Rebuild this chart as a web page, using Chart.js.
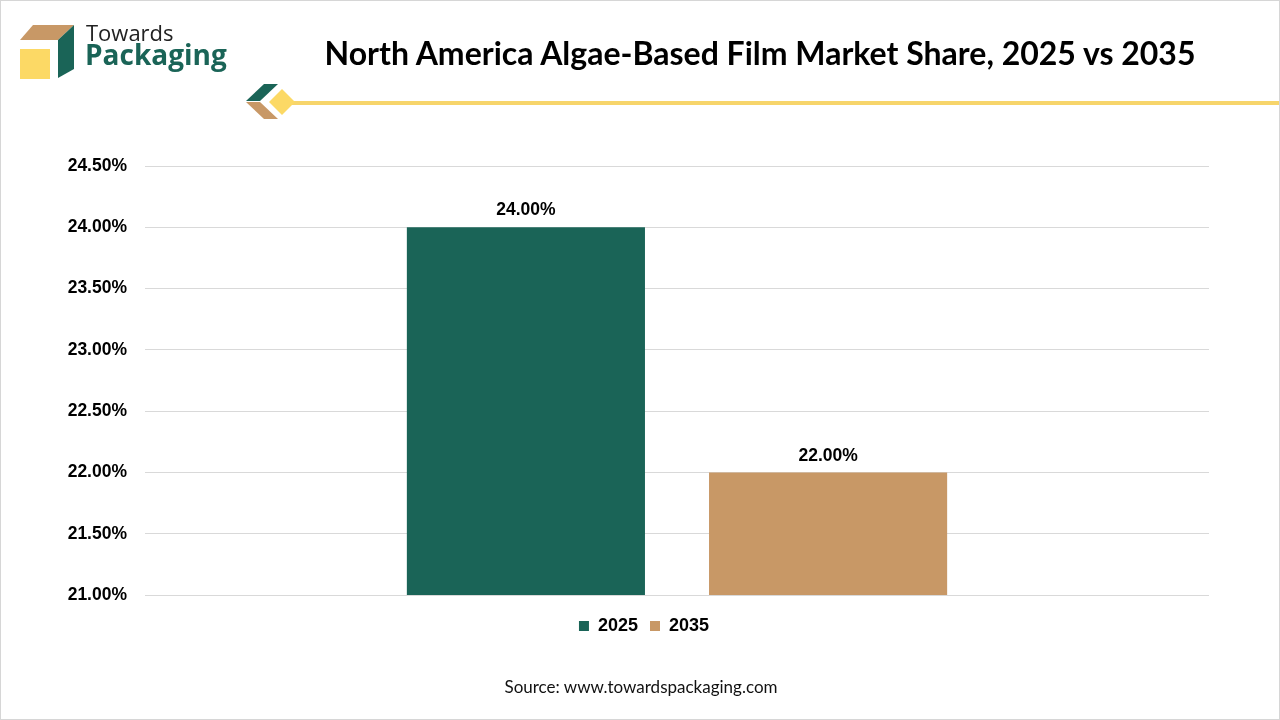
<!DOCTYPE html>
<html>
<head>
<meta charset="utf-8">
<title>North America Algae-Based Film Market Share</title>
<script src="https://cdn.jsdelivr.net/npm/chart.js@4.4.1/dist/chart.umd.min.js"></script>
<style>
  html, body { margin: 0; padding: 0; background: #fff; }
  #page { position: relative; width: 1280px; height: 720px; overflow: hidden; box-sizing: border-box; border: 1px solid #d6d6d6; }
  #chartBox { position: absolute; left: 0; top: 0; width: 1280px; height: 720px; }
  #logo { position: absolute; left: 0; top: 0; }
  .brand1 { position: absolute; left: 85px; top: 16px; font: 400 22px "Open Sans", sans-serif; color: #222; }
  .brand2 { position: absolute; left: 84px; top: 34px; font: 700 28px "Open Sans", sans-serif; color: #1a6457; }
  #title { position: absolute; left: 0; width: 1518px; top: 32px; text-align: center; font: 700 32px Lato, sans-serif; color: #000; }
  #source { position: absolute; left: 0; width: 1280px; top: 675px; text-align: center; font: 400 17px Lato, sans-serif; color: #111; }
</style>
</head>
<body>
<div id="page">
  <div id="chartBox"><canvas id="shareChart"></canvas></div>
  <svg id="logo" width="1280" height="130">
    <polygon points="32,24 73,24 57,39 19,39" fill="#c89866"/>
    <polygon points="73,24 73,68 57,77 57,39" fill="#1a6457"/>
    <rect x="19" y="48" width="30" height="30" fill="#fcd965"/>
    <polygon points="245,100 263,83 277,83 259,100" fill="#1a6457"/>
    <polygon points="245,101 259,101 277,118 263,118" fill="#c89866"/>
    <rect x="288" y="100" width="992" height="4" fill="#f7d56b"/>
    <polygon points="281,88 294,101 281,114 268,101" fill="#fcd965"/>
  </svg>
  <div class="brand1">Towards</div>
  <div class="brand2">Packaging</div>
  <div id="title">North America Algae-Based Film Market Share, 2025 vs 2035</div>
  <div id="source">Source: www.towardspackaging.com</div>
</div>
<script>
// Dữ liệu biểu đồ
const categories = [''];
const seriesNames = ['2025', '2035'];
const values2025 = [24.0];
const values2035 = [22.0];
const seriesColors = ['#1a6457', '#c89866'];
const yTicks = [21, 21.5, 22, 22.5, 23, 23.5, 24, 24.5];

const labelFont = '"Liberation Sans", Arial, sans-serif';

// Vẽ nhãn giá trị trên đầu cột
const barLabels = {
    id: 'barLabels',
    afterDatasetsDraw(chart) {
        const ctx = chart.ctx;
        ctx.save();
        ctx.font = 'bold 17.5px ' + labelFont;
        ctx.fillStyle = '#000';
        ctx.textAlign = 'center';
        ctx.textBaseline = 'bottom';
        chart.data.datasets.forEach((ds, i) => {
            chart.getDatasetMeta(i).data.forEach((bar, j) => {
                ctx.fillText(ds.data[j].toFixed(2) + '%', bar.x, bar.y - 8);
            });
        });
        ctx.restore();
    }
};

// Cho nhãn trục y dùng cả phần lề trái (không bị cắt)
const widenYAxis = {
    id: 'widenYAxis',
    afterLayout(chart) {
        chart.scales.y.left = 0;
    }
};

const ctx = document.getElementById('shareChart').getContext('2d');
new Chart(ctx, {
    type: 'bar',
    data: {
        labels: categories,
        datasets: [
            { label: seriesNames[0], data: values2025, backgroundColor: seriesColors[0] },
            { label: seriesNames[1], data: values2035, backgroundColor: seriesColors[1] }
        ]
    },
    options: {
        responsive: true,
        maintainAspectRatio: false,
        animation: false,
        categoryPercentage: 0.568,
        barPercentage: 0.788,
        layout: { padding: { left: 78, right: 72, top: 165, bottom: 76 } },
        plugins: {
            legend: {
                position: 'bottom',
                labels: {
                    boxWidth: 10,
                    boxHeight: 10,
                    padding: 12,
                    color: '#000',
                    font: { family: labelFont, size: 18, weight: 'bold' }
                }
            },
            tooltip: { enabled: false }
        },
        scales: {
            x: {
                afterFit(scale) { scale.height = 10; },
                ticks: { display: false },
                grid: { display: false, drawTicks: false },
                border: { display: false }
            },
            y: {
                min: 21,
                max: 24.5,
                afterFit(scale) { scale.width = 66; },
                afterBuildTicks(scale) { scale.ticks = yTicks.map(v => ({ value: v })); },
                ticks: {
                    padding: 18,
                    color: '#000',
                    font: { family: labelFont, size: 17.5, weight: 'bold' },
                    callback: v => v.toFixed(2) + '%'
                },
                grid: { color: '#d9d9d9', drawTicks: false },
                border: { display: false }
            }
        }
    },
    plugins: [barLabels, widenYAxis]
});
</script>
</body>
</html>
